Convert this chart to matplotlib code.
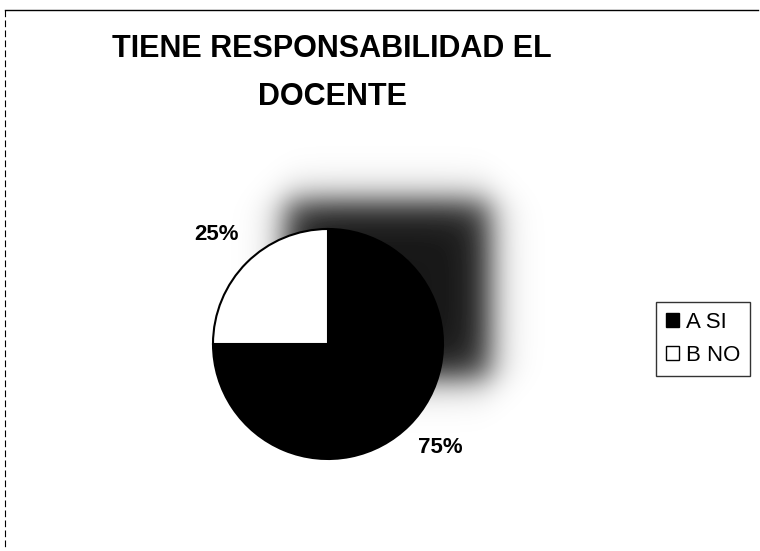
import numpy as np
import matplotlib
matplotlib.use("Agg")
import matplotlib.pyplot as plt
from matplotlib.patches import Patch

plt.rcParams["font.family"] = ["Liberation Sans", "DejaVu Sans"]

categorias = ["A SI", "B NO"]
valores = [75, 25]
etiquetas = ["75%", "25%"]
colores = ["#000000", "#ffffff"]
titulo = "TIENE RESPONSABILIDAD EL\nDOCENTE"

W, H = 760, 551
fig = plt.figure(figsize=(W / 100, H / 100), dpi=100)

# fondo: sombra gris difusa del escaneo (detras del pastel)
bg = fig.add_axes([0, 0, 1, 1])
bg.set_xlim(0, W); bg.set_ylim(H, 0); bg.axis("off")
xx, yy = np.meshgrid(np.arange(W), np.arange(H))
def soft(v, a, b, s):
    return 1 / (1 + np.exp(-(v - a) / s)) * 1 / (1 + np.exp((v - b) / s))
sombra = soft(xx, 285, 490, 10) * soft(yy, 200, 378, 10)
bg.imshow(sombra, cmap="gray_r", vmin=0, vmax=1.1, extent=(0, W, H, 0), zorder=0)
# marco exterior
bg.plot([5, 758], [10, 10], color="black", lw=1)
bg.plot([5, 5], [10, 548], color="black", lw=0.8, ls=(0, (6, 3)))

fig.text(332 / W, 1 - 73 / H, titulo, ha="center", va="center",
         fontsize=22, fontweight="bold", linespacing=1.75)

cx, cy, r = 328, 344, 115
ax = fig.add_axes([(cx - r) / W, (H - cy - r) / H, 2 * r / W, 2 * r / H])
wedges, _ = ax.pie(valores, colors=colores, startangle=90, counterclock=False,
                   radius=1, wedgeprops=dict(edgecolor="black", linewidth=1.5))
ax.set_xlim(-1, 1); ax.set_ylim(-1, 1); ax.set_aspect("equal")

# etiquetas de porcentaje fuera del pastel
pos = {"75%": (0.98, -0.90), "25%": (-0.97, 0.95)}
for e in etiquetas:
    ax.text(*pos[e], e, ha="center", va="center", fontsize=16, fontweight="bold",
            clip_on=False)

handles = [Patch(facecolor=c, edgecolor="black", label=l) for c, l in zip(colores, categorias)]
leg = fig.legend(handles=handles, loc="upper left", bbox_to_anchor=(656 / W, 1 - 302 / H),
                 fontsize=16, frameon=True, fancybox=False, handlelength=0.6,
                 handleheight=0.6, handletextpad=0.3, borderpad=0.45, labelspacing=0.55,
                 borderaxespad=0)
leg.get_frame().set_edgecolor("black")
leg.get_frame().set_linewidth(1)

fig.savefig("out.png", dpi=100)
